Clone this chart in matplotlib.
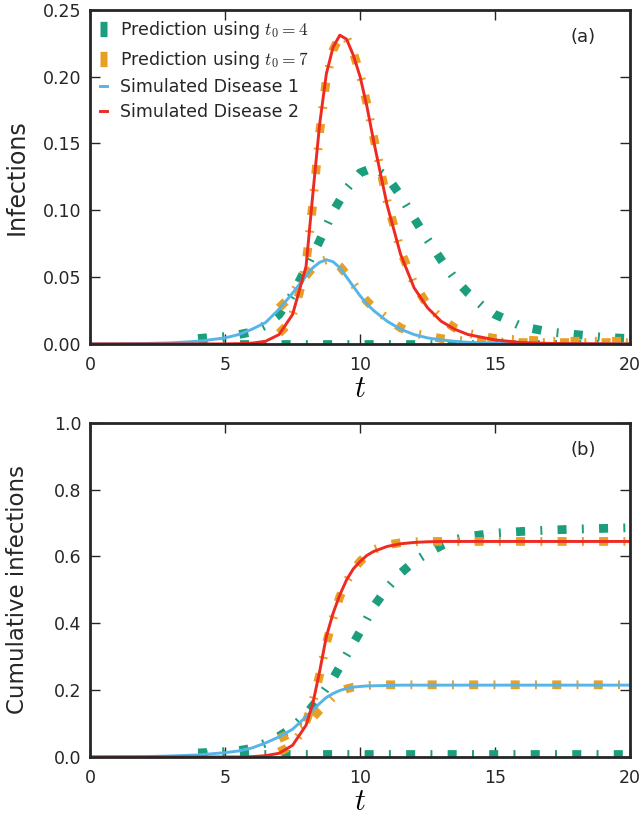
import matplotlib
matplotlib.use("Agg")
import matplotlib.pyplot as plt

plt.rcParams["font.family"] = ["DejaVu Sans"]
plt.rcParams["mathtext.fontset"] = "cm"
plt.rcParams["lines.scale_dashes"] = False

# --- data ---
t_sim = [0, 1, 2, 3, 4, 5, 5.5, 6, 6.5, 7, 7.5, 8, 8.25, 8.5, 8.75, 9, 9.25, 9.5, 9.75,
         10, 10.25, 10.5, 11, 11.5, 12, 12.5, 13, 13.5, 14, 15, 16, 17, 18, 19, 20]
inf_d1 = [0, 0.0001, 0.0003, 0.0008, 0.002, 0.0045, 0.007, 0.011, 0.016, 0.026, 0.038, 0.051,
          0.057, 0.061, 0.063, 0.0615, 0.057, 0.050, 0.043, 0.036, 0.030, 0.025, 0.017, 0.011,
          0.007, 0.0045, 0.003, 0.002, 0.0012, 0.0005, 0.0002, 0.0001, 0, 0, 0]
inf_d2 = [0, 0, 0, 0, 0, 0, 0.0002, 0.0006, 0.002, 0.007, 0.022, 0.058, 0.112, 0.164, 0.202,
          0.222, 0.231, 0.228, 0.216, 0.200, 0.178, 0.152, 0.104, 0.067, 0.042, 0.027, 0.017,
          0.011, 0.007, 0.003, 0.001, 0.0004, 0.0002, 0.0001, 0]
cum_d1 = [0, 0.0005, 0.001, 0.003, 0.006, 0.013, 0.018, 0.027, 0.042, 0.060, 0.083, 0.120,
          0.140, 0.160, 0.178, 0.190, 0.199, 0.205, 0.209, 0.211, 0.2125, 0.213, 0.214, 0.215,
          0.215, 0.215, 0.215, 0.215, 0.215, 0.215, 0.215, 0.215, 0.215, 0.215, 0.215]
cum_d2 = [0, 0, 0, 0, 0, 0, 0, 0.001, 0.004, 0.011, 0.035, 0.095, 0.16, 0.255, 0.36, 0.43,
          0.485, 0.53, 0.563, 0.585, 0.603, 0.615, 0.630, 0.638, 0.642, 0.644, 0.645, 0.645,
          0.645, 0.645, 0.645, 0.645, 0.645, 0.645, 0.645]

# prediction with t0 = 4
t_p4 = [4, 4.5, 5, 5.5, 6, 6.5, 7, 7.5, 8, 8.5, 9, 9.5, 10, 10.5, 11, 11.5, 12, 12.5, 13,
        13.5, 14, 14.5, 15, 16, 17, 18, 19, 20]
p4_inf_d1 = [0.0003] * len(t_p4)
p4_inf_d2 = [0.004, 0.005, 0.0055, 0.007, 0.009, 0.014, 0.022, 0.037, 0.057, 0.077, 0.099,
             0.116, 0.128, 0.132, 0.125, 0.111, 0.094, 0.078, 0.063, 0.049, 0.038, 0.029,
             0.022, 0.013, 0.009, 0.007, 0.005, 0.004]
p4_cum_d1 = [0.009] * len(t_p4)
p4_cum_d2 = [0.012, 0.014, 0.016, 0.019, 0.026, 0.042, 0.062, 0.088, 0.128, 0.178, 0.235,
             0.305, 0.375, 0.450, 0.505, 0.550, 0.585, 0.610, 0.632, 0.650, 0.660, 0.665,
             0.670, 0.675, 0.679, 0.682, 0.684, 0.686]

# prediction with t0 = 7
t_p7 = [7, 7.25, 7.5, 7.75, 8, 8.25, 8.5, 8.75, 9, 9.25, 9.5, 9.75, 10, 10.25, 10.5, 11,
        11.5, 12, 12.5, 13, 13.5, 14, 15, 16, 17, 18, 19, 20]
p7_inf_d1 = [0.027, 0.032, 0.038, 0.045, 0.051, 0.057, 0.061, 0.063, 0.062, 0.058, 0.052,
             0.045, 0.038, 0.032, 0.027, 0.019, 0.012, 0.008, 0.006, 0.004, 0.003, 0.002,
             0.0015, 0.001, 0.001, 0.001, 0.001, 0.001]
p7_inf_d2 = [0.008, 0.013, 0.022, 0.038, 0.060, 0.105, 0.158, 0.198, 0.220, 0.230, 0.229,
             0.218, 0.202, 0.180, 0.155, 0.107, 0.070, 0.045, 0.029, 0.019, 0.012, 0.008,
             0.004, 0.003, 0.002, 0.002, 0.002, 0.002]
p7_cum_d1 = [0.055, 0.064, 0.075, 0.087, 0.100, 0.118, 0.140, 0.160, 0.180, 0.194, 0.204,
             0.209, 0.212, 0.214, 0.215, 0.216, 0.216, 0.216, 0.216, 0.216, 0.216, 0.216,
             0.216, 0.216, 0.216, 0.216, 0.216, 0.216]
p7_cum_d2 = [0.015, 0.025, 0.040, 0.065, 0.105, 0.165, 0.245, 0.34, 0.415, 0.48, 0.525,
             0.56, 0.585, 0.605, 0.62, 0.635, 0.641, 0.644, 0.645, 0.645, 0.645, 0.645,
             0.645, 0.645, 0.645, 0.645, 0.645, 0.645]

GREEN = "#1a9e7b"
ORANGE = "#e89f22"
BLUE = "#56b4e9"
RED = "#ee2a22"
DARK = "#262626"
dashdot = (6.5, 11, 1.4, 11)

fig = plt.figure(figsize=(6.43, 8.15), dpi=100)
ax_a = fig.add_axes([0.14, 0.578, 0.84, 0.41])
ax_b = fig.add_axes([0.14, 0.0712, 0.84, 0.41])


def draw(ax, p4_1, p4_2, p7_1, p7_2, s1, s2, legend=False):
    ax.plot(t_p4, p4_1, color=GREEN, lw=6.3, dashes=dashdot, label=r"Prediction using $t_0=4$")
    ax.plot(t_p4, p4_2, color=GREEN, lw=6.3, dashes=dashdot)
    ax.plot(t_p7, p7_1, color=ORANGE, lw=6.3, dashes=dashdot, label=r"Prediction using $t_0=7$")
    ax.plot(t_p7, p7_2, color=ORANGE, lw=6.3, dashes=dashdot)
    ax.plot(t_sim, s1, color=BLUE, lw=2.1, label="Simulated Disease 1")
    ax.plot(t_sim, s2, color=RED, lw=2.1, label="Simulated Disease 2")
    ax.set_xlim(0, 20)
    ax.set_xticks([0, 5, 10, 15, 20])
    ax.set_xlabel(r"$t$", fontsize=22, labelpad=0)
    ax.tick_params(direction="in", length=7, width=1, top=True, right=True,
                   labelsize=12.5, colors=DARK)
    ax.tick_params(axis="x", pad=9)
    ax.tick_params(axis="y", pad=6)
    for sp in ax.spines.values():
        sp.set_linewidth(2.0)
        sp.set_color(DARK)
    ax.yaxis.set_label_coords(-0.135, 0.5)
    if legend:
        leg = ax.legend(loc="upper left", frameon=False, fontsize=12.5, handlelength=0.45,
                        handletextpad=0.75, labelspacing=0.42, borderaxespad=0.15)
        for ln in leg.get_lines()[:2]:
            ln.set_linewidth(11)
        for txt in leg.get_texts():
            txt.set_color(DARK)


draw(ax_a, p4_inf_d1, p4_inf_d2, p7_inf_d1, p7_inf_d2, inf_d1, inf_d2, legend=True)
ax_a.set_ylim(0, 0.25)
ax_a.set_yticks([0, 0.05, 0.10, 0.15, 0.20, 0.25])
ax_a.set_yticklabels(["0.00", "0.05", "0.10", "0.15", "0.20", "0.25"])
ax_a.set_ylabel("Infections", fontsize=17, color=DARK, va="center")
ax_a.text(0.913, 0.92, "(a)", transform=ax_a.transAxes, fontsize=13, color=DARK,
          ha="center", va="center")

draw(ax_b, p4_cum_d1, p4_cum_d2, p7_cum_d1, p7_cum_d2, cum_d1, cum_d2)
ax_b.set_ylim(0, 1.0)
ax_b.set_yticks([0, 0.2, 0.4, 0.6, 0.8, 1.0])
ax_b.set_yticklabels(["0.0", "0.2", "0.4", "0.6", "0.8", "1.0"])
ax_b.set_ylabel("Cumulative infections", fontsize=16.5, color=DARK, va="center")
ax_b.text(0.913, 0.92, "(b)", transform=ax_b.transAxes, fontsize=13, color=DARK,
          ha="center", va="center")

fig.savefig("out.png", dpi=100)
